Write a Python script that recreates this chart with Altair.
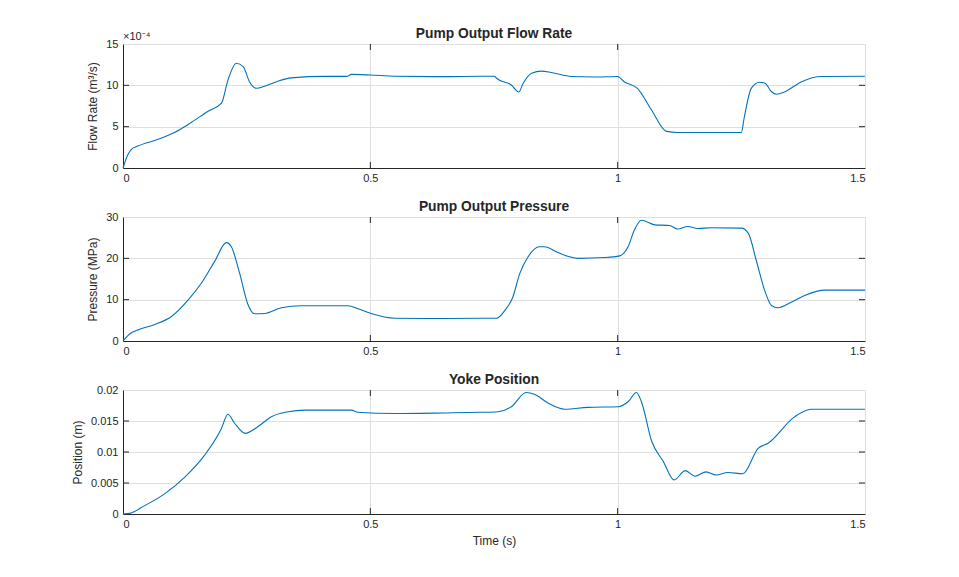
import altair as alt
import pandas as pd

# ---- data ----
flow_t = [0, 0.010, 0.017, 0.030, 0.071, 0.104, 0.138, 0.172, 0.199, 0.212, 0.229, 0.243, 0.256,
          0.270, 0.286, 0.313, 0.340, 0.408, 0.452, 0.462, 0.50, 0.55, 0.65, 0.720, 0.751, 0.755,
          0.785, 0.800, 0.809, 0.826, 0.846, 0.866, 0.907, 0.954, 1.0, 1.013, 1.040, 1.067, 1.099,
          1.121, 1.189, 1.250, 1.256, 1.270, 1.287, 1.298, 1.311, 1.321, 1.338, 1.372, 1.412, 1.5]
flow_v = [0, 1.64, 2.25, 2.66, 3.47, 4.29, 5.51, 6.87, 7.84, 10.6, 12.67, 12.25, 10.4,
          9.64, 9.89, 10.5, 10.9, 11.08, 11.08, 11.32, 11.25, 11.1, 11.05, 11.1, 11.1, 10.86,
          10.04, 9.2, 10.25, 11.47, 11.72, 11.55, 11.06, 11.0, 11.06, 10.44, 9.63, 7.17, 4.43,
          4.30, 4.3, 4.3, 6.14, 9.63, 10.37, 10.25, 9.22, 8.93, 9.22, 10.44, 11.06, 11.1]

pres_t = [0, 0.0135, 0.030, 0.064, 0.098, 0.131, 0.158, 0.185, 0.209, 0.219, 0.236, 0.252, 0.266,
          0.286, 0.320, 0.360, 0.455, 0.475, 0.50, 0.55, 0.65, 0.720, 0.755, 0.772, 0.788, 0.802,
          0.819, 0.842, 0.852, 0.879, 0.920, 0.974, 1.004, 1.021, 1.034, 1.048, 1.075, 1.105,
          1.121, 1.142, 1.162, 1.189, 1.250, 1.264, 1.280, 1.297, 1.311, 1.324, 1.351, 1.378,
          1.419, 1.5]
pres_v = [0, 1.7, 2.68, 3.98, 5.93, 9.83, 13.9, 19.2, 23.8, 22.8, 16.3, 9.02, 6.58,
          6.66, 8.05, 8.54, 8.54, 7.8, 6.7, 5.5, 5.45, 5.5, 5.5, 7.4, 10.6, 16.3,
          20.4, 22.8, 22.8, 21.4, 20.0, 20.2, 20.6, 22.8, 26.9, 29.2, 28.1, 27.95,
          27.1, 27.7, 27.2, 27.4, 27.3, 26.1, 19.6, 12.3, 8.6, 8.05, 9.4, 11.0,
          12.3, 12.3]

pos_t = [0, 0.0135, 0.0438, 0.084, 0.125, 0.165, 0.199, 0.212, 0.226, 0.247, 0.273, 0.300, 0.334,
         0.367, 0.462, 0.475, 0.55, 0.65, 0.720, 0.758, 0.785, 0.815, 0.832, 0.859, 0.893, 0.940,
         1.001, 1.021, 1.038, 1.048, 1.069, 1.092, 1.114, 1.137, 1.156, 1.179, 1.199, 1.223,
         1.253, 1.284, 1.304, 1.358, 1.391, 1.5]
pos_v = [0, 0.0001, 0.00135, 0.00325, 0.00596, 0.0095, 0.0138, 0.0161, 0.0146, 0.0130, 0.0141,
         0.0157, 0.0165, 0.01675, 0.01675, 0.0164, 0.0162, 0.0163, 0.0164, 0.0165, 0.0173, 0.0196,
         0.0193, 0.0179, 0.0169, 0.0172, 0.0173, 0.0181, 0.0196, 0.0181, 0.0117, 0.0085, 0.0055,
         0.0070, 0.0061, 0.0068, 0.0063, 0.0067, 0.0065, 0.0106, 0.0114, 0.0157, 0.0169, 0.0169]

x_ticks = [0, 0.5, 1, 1.5]
flow_ticks = [0, 5, 10, 15]
pres_ticks = [0, 10, 20, 30]
pos_ticks = [0, 0.005, 0.01, 0.015, 0.02]

titles = ["Pump Output Flow Rate", "Pump Output Pressure", "Yoke Position"]
ylabels = ["Flow Rate (m³/s)", "Pressure (MPa)", "Position (m)"]
xlabel = "Time (s)"
exp_label = ["×10⁻⁴"]

# ---- style ----
W, H = 742, 124
FONT = "Liberation Sans"
TXT = "#262626"
LINE = "#0072BD"
GRID = "#DFDFDF"
TICK = 6


def panel(t, v, yticks, ytitle, title, xtitle=None, extra=None):
    df = pd.DataFrame({"t": t, "v": v})
    xenc = alt.X("t:Q", scale=alt.Scale(domain=[0, 1.5], nice=False, zero=False),
                 axis=alt.Axis(values=x_ticks, format="~r", title=xtitle, grid=True,
                               gridColor=GRID, tickSize=0, labelPadding=4,
                               domainColor=TXT, labelColor=TXT, labelFont=FONT,
                               labelFontSize=11, titleFont=FONT, titleFontSize=12,
                               titleFontWeight="normal", titleColor=TXT, titlePadding=6))
    yenc = alt.Y("v:Q", scale=alt.Scale(domain=[yticks[0], yticks[-1]], nice=False, zero=False),
                 axis=alt.Axis(values=yticks, format="~r", title=ytitle, grid=True,
                               gridColor=GRID, tickSize=0, labelPadding=5,
                               domainColor=TXT, labelColor=TXT, labelFont=FONT,
                               labelFontSize=11, titleFont=FONT, titleFontSize=12,
                               titleFontWeight="normal", titleColor=TXT, titlePadding=6))
    line = alt.Chart(df).mark_line(color=LINE, strokeWidth=1.1, interpolate="monotone").encode(
        x=xenc, y=yenc)
    xt = pd.DataFrame({"t": x_ticks[1:-1]})
    yt = pd.DataFrame({"v": yticks[1:-1]})
    rule = dict(color=TXT, strokeWidth=1)
    xb = alt.Chart(xt).mark_rule(**rule).encode(x=xenc, y=alt.value(H - TICK), y2=alt.value(H))
    xtop = alt.Chart(xt).mark_rule(**rule).encode(x=xenc, y=alt.value(0), y2=alt.value(TICK))
    yl = alt.Chart(yt).mark_rule(**rule).encode(y=yenc, x=alt.value(0), x2=alt.value(TICK))
    yr = alt.Chart(yt).mark_rule(**rule).encode(y=yenc, x=alt.value(W - TICK), x2=alt.value(W))
    ttl = alt.Chart(pd.DataFrame({"label": [title]})).mark_text(
        align="center", baseline="bottom", font=FONT, fontSize=13.8, fontWeight="bold",
        color=TXT).encode(text="label:N", x=alt.value(W / 2), y=alt.value(-3))
    layers = [line, xb, xtop, yl, yr, ttl]
    if extra is not None:
        layers.append(extra)
    return alt.layer(*layers).properties(width=W, height=H)


exp_text = alt.Chart(pd.DataFrame({"label": exp_label})).mark_text(
    align="left", baseline="bottom", font=FONT, fontSize=11, color=TXT).encode(
    text="label:N", x=alt.value(0), y=alt.value(-2))

p1 = panel(flow_t, flow_v, flow_ticks, ylabels[0], titles[0], extra=exp_text)
p2 = panel(pres_t, pres_v, pres_ticks, ylabels[1], titles[1])
p3 = panel(pos_t, pos_v, pos_ticks, ylabels[2], titles[2], xtitle=xlabel)

chart = alt.vconcat(p1, p2, p3, spacing=15).properties(
    padding={"left": 62, "top": 18, "right": 10, "bottom": 10}
).configure_view(stroke=TXT, strokeWidth=1).configure(background="white")

chart.save("out.html", embed_options={"renderer": "svg", "actions": False})
